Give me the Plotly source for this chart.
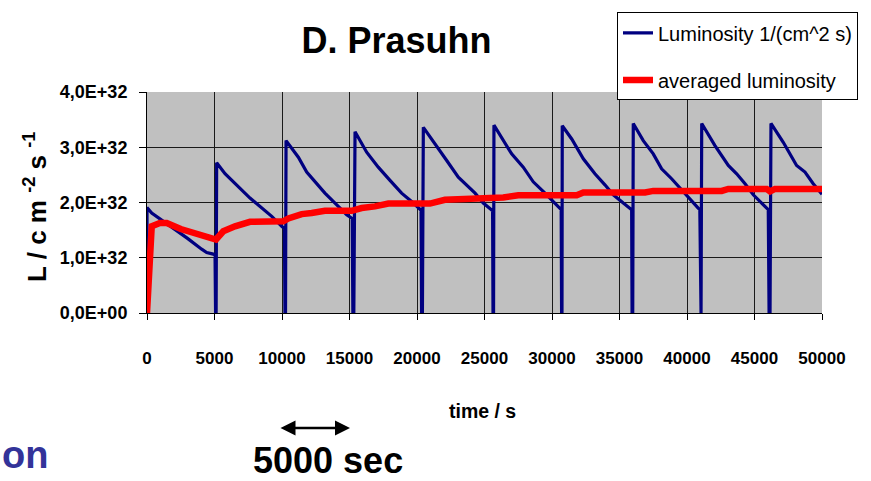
import plotly.graph_objects as go

# ---------------- data (luminosity in units of 1E32 1/(cm^2 s)) ----------------
SCALE = 1e32

lumi_t = [0, 0, 350, 1000, 2000, 3000, 4050, 4420, 4910, 5040, 5080, 5120,
          5160, 5780, 7630, 9240, 9980, 10180, 10220, 10260,
          10300, 10590, 11210, 11830, 12440, 13180, 14170, 14790, 15200, 15250, 15320,
          15410, 16270, 17130, 18000, 18860, 19600, 20150, 20300, 20340, 20400,
          20470, 21460, 22200, 23060, 23550, 24300, 24910, 25530, 25600, 25630, 25670,
          25700, 26520, 27010, 27870, 28610, 29480, 30220, 30590, 30680, 30710, 30740,
          30760, 31460, 32320, 33180, 33920, 34540, 35280, 35900, 35930, 35980,
          36020, 36760, 37500, 38120, 38860, 39600, 40090, 40830, 40950, 40990, 41040,
          41090, 42070, 43060, 43680, 44300, 44910, 45530, 46020, 46080, 46150,
          46220, 47130, 48120, 48740, 49350, 50000]
lumi_v = [0, 1.91, 1.81, 1.70, 1.52, 1.35, 1.155, 1.095, 1.066, 1.05, 0, 0,
          2.72, 2.52, 2.08, 1.75, 1.57, 1.53, 0, 0,
          3.12, 3.03, 2.82, 2.55, 2.375, 2.17, 1.93, 1.78, 1.71, 0, 0,
          3.28, 2.91, 2.64, 2.40, 2.17, 2.02, 1.90, 1.86, 0, 0,
          3.36, 3.03, 2.76, 2.46, 2.34, 2.17, 1.99, 1.87, 1.85, 0, 0,
          3.40, 3.06, 2.88, 2.64, 2.375, 2.17, 1.99, 1.90, 1.87, 0, 0,
          3.39, 3.15, 2.79, 2.52, 2.32, 2.14, 1.99, 1.87, 0, 0,
          3.43, 3.12, 2.88, 2.61, 2.43, 2.23, 2.08, 1.90, 1.87, 0, 0,
          3.43, 3.03, 2.67, 2.52, 2.34, 2.14, 1.99, 1.87, 0, 0,
          3.43, 3.09, 2.67, 2.55, 2.34, 2.15]

avg_t = [0, 350, 960, 1460, 2500, 3930, 4540, 5110, 5650, 6520, 7630, 10100,
         10470, 11460, 12200, 13180, 15160, 15900, 16890, 17880, 20100, 20960,
         22070, 25650, 26390, 27500, 30960, 31830, 32320, 36890, 37500, 42570,
         43060, 45900, 46150, 46520, 50000]
avg_v = [0, 1.57, 1.63, 1.63, 1.52, 1.41, 1.39, 1.33, 1.48, 1.57, 1.65, 1.66,
         1.71, 1.79, 1.81, 1.85, 1.85, 1.90, 1.93, 1.98, 1.98, 1.98,
         2.05, 2.07, 2.09, 2.13, 2.13, 2.13, 2.18, 2.18, 2.21, 2.21,
         2.245, 2.245, 2.20, 2.245, 2.245]

x_ticks = [0, 5000, 10000, 15000, 20000, 25000, 30000, 35000, 40000, 45000, 50000]
x_tick_labels = [str(v) for v in x_ticks]
y_ticks = [0, 1, 2, 3, 4]
y_tick_labels = ["0,0E+00", "1,0E+32", "2,0E+32", "3,0E+32", "4,0E+32"]

series_names = ["Luminosity 1/(cm^2 s)", "averaged luminosity"]

# ---------------- styling ----------------
ARIAL = "Liberation Sans, Arial, sans-serif"

fig = go.Figure()
fig.add_trace(go.Scatter(
    x=lumi_t, y=[v * SCALE for v in lumi_v], mode="lines", name=series_names[0],
    line=dict(color="#000080", width=3.2), legendgroup="a"))
fig.add_trace(go.Scatter(
    x=avg_t, y=[v * SCALE for v in avg_v], mode="lines", name=series_names[1],
    line=dict(color="#ff0000", width=6.5), legendgroup="b"))

fig.update_layout(
    width=871, height=481,
    margin=dict(l=147, r=49, t=88, b=168, pad=0),
    paper_bgcolor="white", plot_bgcolor="#c0c0c0",
    title=dict(text="D. Prasuhn", x=(396.5 - 147) / 675, xref="paper", xanchor="center",
               y=1 - 40 / 481, yref="container", yanchor="middle",
               font=dict(family=ARIAL, size=36, color="black", weight="bold")),
    showlegend=True,
    legend=dict(x=(858 - 147) / 675, xanchor="right", y=(313 - 7) / 225, yanchor="top",
                bgcolor="white", bordercolor="black", borderwidth=1,
                font=dict(family=ARIAL, size=20, color="black"),
                traceorder="grouped", tracegroupgap=18, itemwidth=30),
)

fig.update_xaxes(
    range=[0, 50000], tickvals=x_ticks, ticktext=x_tick_labels,
    showgrid=True, gridcolor="#1a1a1a", gridwidth=1,
    showline=True, linecolor="black", linewidth=1, zeroline=False,
    ticks="outside", ticklen=6, tickcolor="black", ticklabelstandoff=24,
    tickfont=dict(family=ARIAL, size=17, color="black", weight="bold"),
)
fig.update_yaxes(
    range=[0, 4 * SCALE], tickvals=[v * SCALE for v in y_ticks], ticktext=y_tick_labels,
    showgrid=True, gridcolor="#1a1a1a", gridwidth=1,
    showline=True, linecolor="black", linewidth=1, zeroline=False,
    ticks="outside", ticklen=7, tickcolor="black", ticklabelstandoff=8,
    tickfont=dict(family=ARIAL, size=18, color="black", weight="bold"),
)

# axis titles & slide annotations
fig.add_annotation(text="L / c m <sup>-2</sup> s <sup>-1</sup>", textangle=-90,
                   xref="paper", yref="paper", x=(36 - 147) / 675, y=(313 - 205) / 225,
                   xanchor="center", yanchor="middle", showarrow=False,
                   font=dict(family=ARIAL, size=26, color="black", weight="bold"))
fig.add_annotation(text="time / s", xref="paper", yref="paper",
                   x=(482 - 147) / 675, y=(313 - 413) / 225,
                   xanchor="center", yanchor="middle", showarrow=False,
                   font=dict(family=ARIAL, size=19.5, color="black", weight="bold"))
fig.add_annotation(text="5000 sec", xref="paper", yref="paper",
                   x=(328 - 147) / 675, y=(313 - 463) / 225,
                   xanchor="center", yanchor="middle", showarrow=False,
                   font=dict(family=ARIAL, size=36, color="black", weight="bold"))
fig.add_annotation(text="", xref="paper", yref="paper",
                   x=(350 - 147) / 675, y=(313 - 430) / 225,
                   ax=-71, ay=0, axref="pixel", ayref="pixel",
                   showarrow=True, arrowside="end+start", arrowhead=2,
                   arrowsize=1.2, arrowwidth=2.5, arrowcolor="black")
fig.add_annotation(text="on", xref="paper", yref="paper",
                   x=(0 - 147) / 675, y=(313 - 481) / 225,
                   xanchor="left", yanchor="bottom", showarrow=False,
                   font=dict(family=ARIAL, size=38, color="#333399", weight="bold"))

fig.write_html("out.html")
